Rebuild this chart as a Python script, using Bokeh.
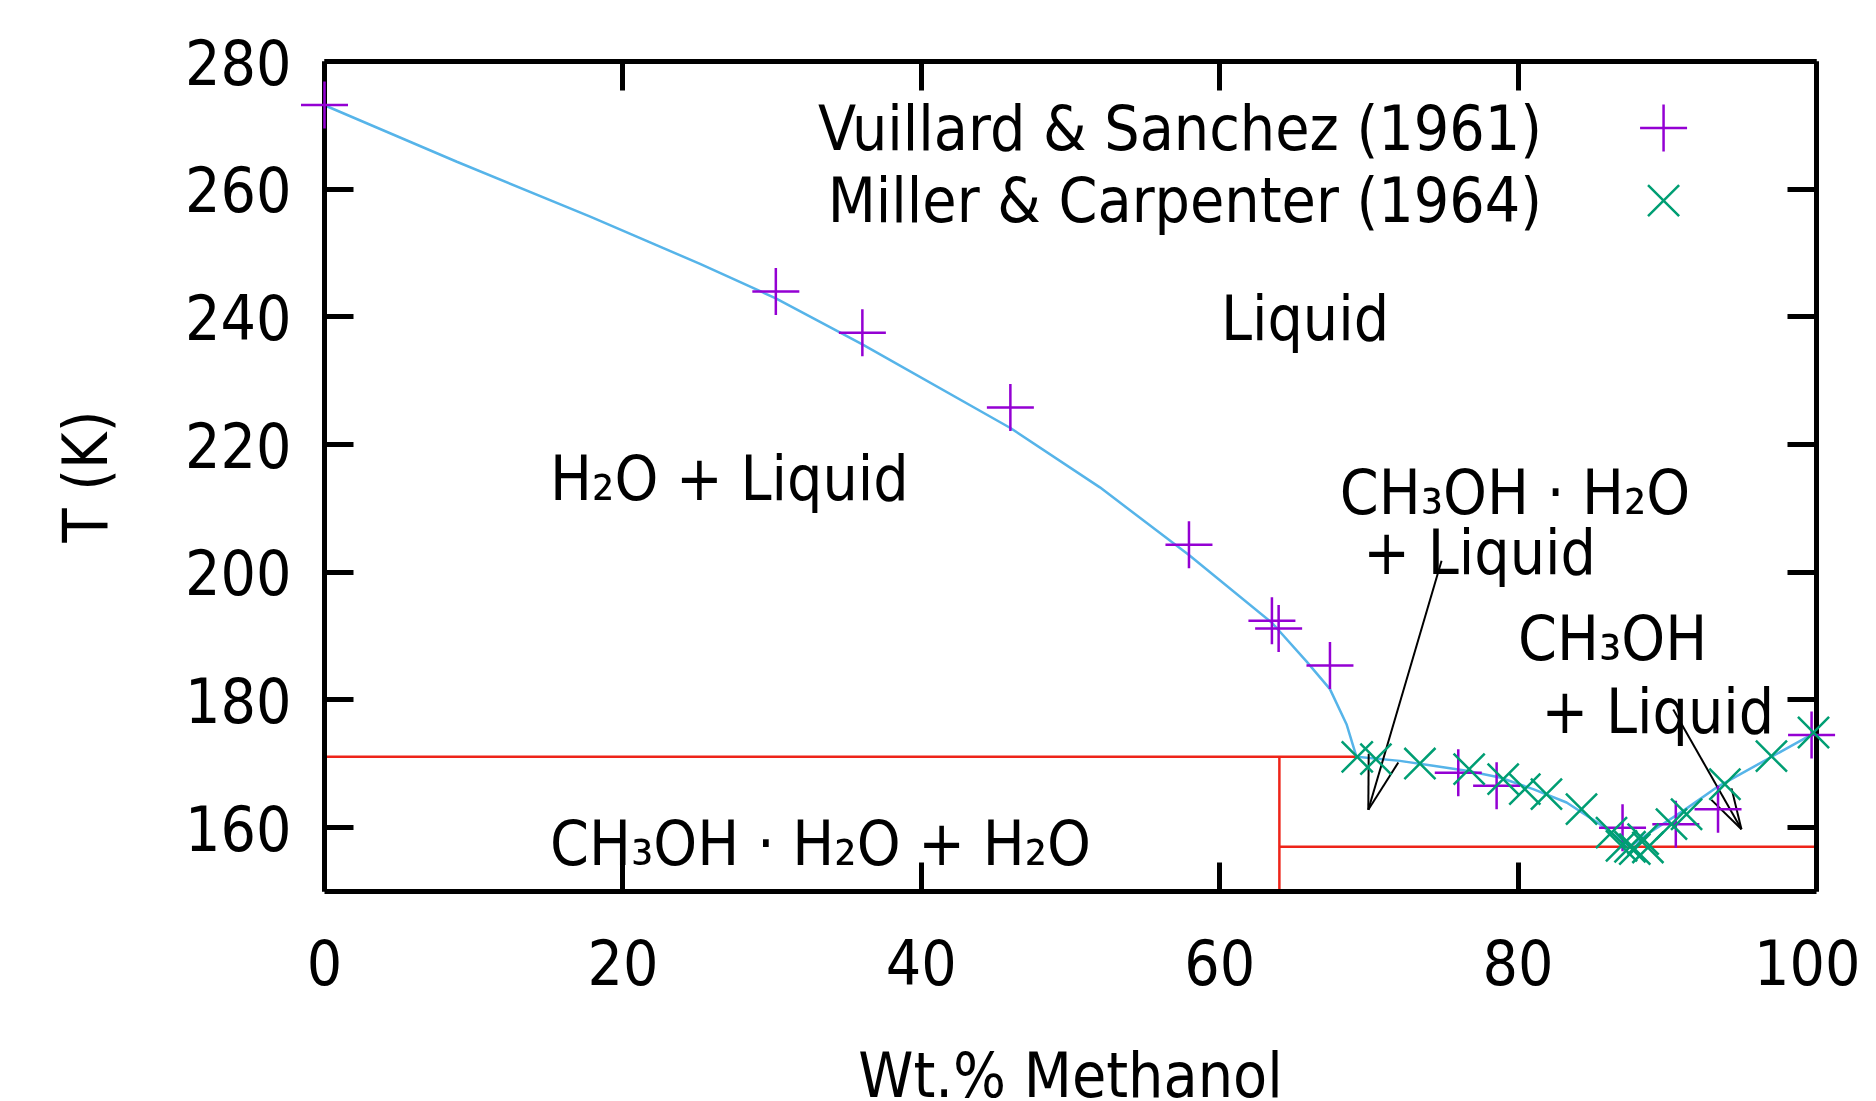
import numpy as np
from bokeh.plotting import figure
from bokeh.models import Range1d, FixedTicker, LinearAxis, Label, CustomJSTickFormatter
from bokeh.embed import file_html
from bokeh.resources import INLINE

# ---------------- data ----------------
# Vuillard & Sanchez (1961)
vs_w = [0.0, 30.25, 36.05, 45.97, 57.94, 63.5, 63.95, 67.39, 75.99, 78.56, 87.0, 90.57, 93.4, 99.67]
vs_T = [273.2, 243.96, 237.5, 225.8, 204.3, 192.4, 191.2, 185.4, 168.6, 166.55, 160.0, 160.55, 162.9, 174.5]

# Miller & Carpenter (1964)
mc_w = [69.22, 70.47, 73.42, 76.72, 79.0, 80.45, 81.9, 84.25, 86.26, 86.93, 87.5, 87.82, 88.38, 88.7,
        90.28, 91.29, 93.86, 96.98, 99.8]
mc_T = [171.09, 170.73, 170.04, 169.16, 167.6, 166.03, 165.25, 162.9, 159.23, 157.15, 157.0, 156.63, 158.2, 156.9,
        160.55, 162.1, 166.8, 171.2, 174.9]

# liquidus curve
liq_w = [0.0, 8.87, 17.81, 25.17, 30.25, 36.05, 45.97, 51.97, 57.94, 63.5, 65.83, 67.39, 68.5, 69.17,
         72.08, 74.31, 76.55, 78.78, 81.01, 83.25, 85.48, 87.49, 88.83, 91.06, 93.3, 97.3, 100.0]
liq_T = [273.15, 264.3, 255.7, 248.3, 242.9, 235.7, 222.6, 213.3, 202.7, 192.1, 186.0, 181.7, 176.2, 171.1,
         170.46, 169.68, 168.9, 167.85, 166.03, 163.94, 160.55, 157.0, 159.23, 162.63, 166.3, 171.5, 175.0]

# phase boundaries
eut1_T = 171.1      # upper eutectic
eut1_w = 69.2
hydrate_w = 64.0    # CH3OH.H2O composition
eut2_T = 157.0      # lower eutectic

x_ticks = [0, 20, 40, 60, 80, 100]
y_ticks = [160, 180, 200, 220, 240, 260, 280]

# region labels: (text, w, T of baseline)
region_labels = [
    ("Liquid", 60.08, 236.0),
    ("H\u2082O + Liquid", 15.12, 211.0),
    ("CH\u2083OH \u00b7 H\u2082O + H\u2082O", 15.12, 153.8),
    ("CH\u2083OH \u00b7 H\u2082O", 68.05, 208.8),
    ("+ Liquid", 69.62, 199.4),
    ("CH\u2083OH", 80.0, 185.9),
    ("+ Liquid", 81.57, 174.4),
]

# arrows: (start_w, start_T, tip_w, tip_T, head_len_px)
arrows = [
    (74.87, 201.8, 69.96, 162.8, 56),
    (90.4, 178.5, 94.97, 159.76, 42),
]

series_names = ["Vuillard & Sanchez (1961)", "Miller & Carpenter (1964)"]

# ---------------- style ----------------
FONT = "DejaVu Sans Condensed"
FS = "62px"
PURPLE = "#9400d3"
GREEN = "#009e73"
BLUE = "#56b4e9"
RED = "#ee2419"

FW, FH = 1492, 830
X0, X1, Y0, Y1 = 0, 100, 150, 280
sx = FW / (X1 - X0)
sy = FH / (Y1 - Y0)
LABEL_SHIFT = 24 / sy       # compensation of the text baseline placement (px -> data)
FRAME_TOP = 61

p = figure(frame_width=FW, frame_height=FH,
           x_range=Range1d(X0, X1), y_range=Range1d(Y0, Y1),
           output_backend="svg", toolbar_location=None,
           min_border_left=324, min_border_top=FRAME_TOP, min_border_right=44, min_border_bottom=150)
p.grid.visible = False
p.outline_line_color = None
p.background_fill_color = "white"
p.border_fill_color = "white"

def style_axis(ax, ticks):
    ax.ticker = FixedTicker(ticks=ticks)
    ax.axis_line_width = 5
    ax.axis_line_color = "black"
    ax.major_tick_in = 29
    ax.major_tick_out = 0
    ax.major_tick_line_width = 5
    ax.minor_tick_line_color = None
    ax.major_label_text_font = FONT
    ax.major_label_text_font_size = FS
    ax.major_label_text_color = "black"
    ax.axis_label_text_font = FONT
    ax.axis_label_text_font_size = FS
    ax.axis_label_text_font_style = "normal"
    ax.axis_label_text_color = "black"

style_axis(p.xaxis[0], x_ticks)
style_axis(p.yaxis[0], y_ticks)
p.xaxis[0].major_label_standoff = 47
p.xaxis[0].axis_label = "Wt.% Methanol"
p.xaxis[0].axis_label_standoff = 51
p.yaxis[0].major_label_standoff = 33
p.yaxis[0].axis_label = "T (K)"
p.yaxis[0].axis_label_standoff = 60

top_ax = LinearAxis(formatter=CustomJSTickFormatter(code="return ''"))
style_axis(top_ax, x_ticks)
top_ax.major_label_standoff = 0
p.add_layout(top_ax, "above")
right_ax = LinearAxis(formatter=CustomJSTickFormatter(code="return ''"))
style_axis(right_ax, y_ticks)
right_ax.major_label_standoff = 0
p.add_layout(right_ax, "right")

def txt(x, y, s, align="left"):
    return Label(x=x, y=y, text=s, text_font=FONT, text_font_size=FS, text_color="black",
                 text_align=align, text_baseline="alphabetic")

# phase boundary lines
p.line([X0, eut1_w], [eut1_T, eut1_T], line_color=RED, line_width=2.5)
p.line([hydrate_w, hydrate_w], [Y0, eut1_T], line_color=RED, line_width=2.5)
p.line([hydrate_w, X1], [eut2_T, eut2_T], line_color=RED, line_width=2.5)

# liquidus
p.line(liq_w, liq_T, line_color=BLUE, line_width=2.5)

# data points
r1 = p.scatter(vs_w, vs_T, marker="cross", size=47, line_color=PURPLE, line_width=2.5)
r2 = p.scatter(mc_w, mc_T, marker="x", size=44, line_color=GREEN, line_width=2.5)
r1.level = "overlay"
r2.level = "overlay"

# arrows
ang = np.deg2rad(16)
for (w0, t0, w1, t1, L) in arrows:
    p.segment(w0, t0, w1, t1, line_color="black", line_width=2)
    a = np.arctan2((t0 - t1) * sy, (w0 - w1) * sx)
    for s in (-1, 1):
        bw = w1 + L * np.cos(a + s * ang) / sx
        bt = t1 + L * np.sin(a + s * ang) / sy
        p.segment(w1, t1, bw, bt, line_color="black", line_width=2)

# region labels
for (s, w, t) in region_labels:
    p.add_layout(txt(w, t + LABEL_SHIFT, s))

# key (labels on the left, symbols on the right, as in the original)
key_text_w = 81.6
key_mark_w = 89.75
key_rows_T = [265.7, 254.4]
key_mark_T = [269.6, 258.2]
for name, t in zip(series_names, key_rows_T):
    p.add_layout(txt(key_text_w, t + LABEL_SHIFT, name, "right"))
p.scatter([key_mark_w], [key_mark_T[0]], marker="cross", size=47, line_color=PURPLE, line_width=2.5)
p.scatter([key_mark_w], [key_mark_T[1]], marker="x", size=44, line_color=GREEN, line_width=2.5)

open("out.html", "w").write(file_html(p, INLINE))
